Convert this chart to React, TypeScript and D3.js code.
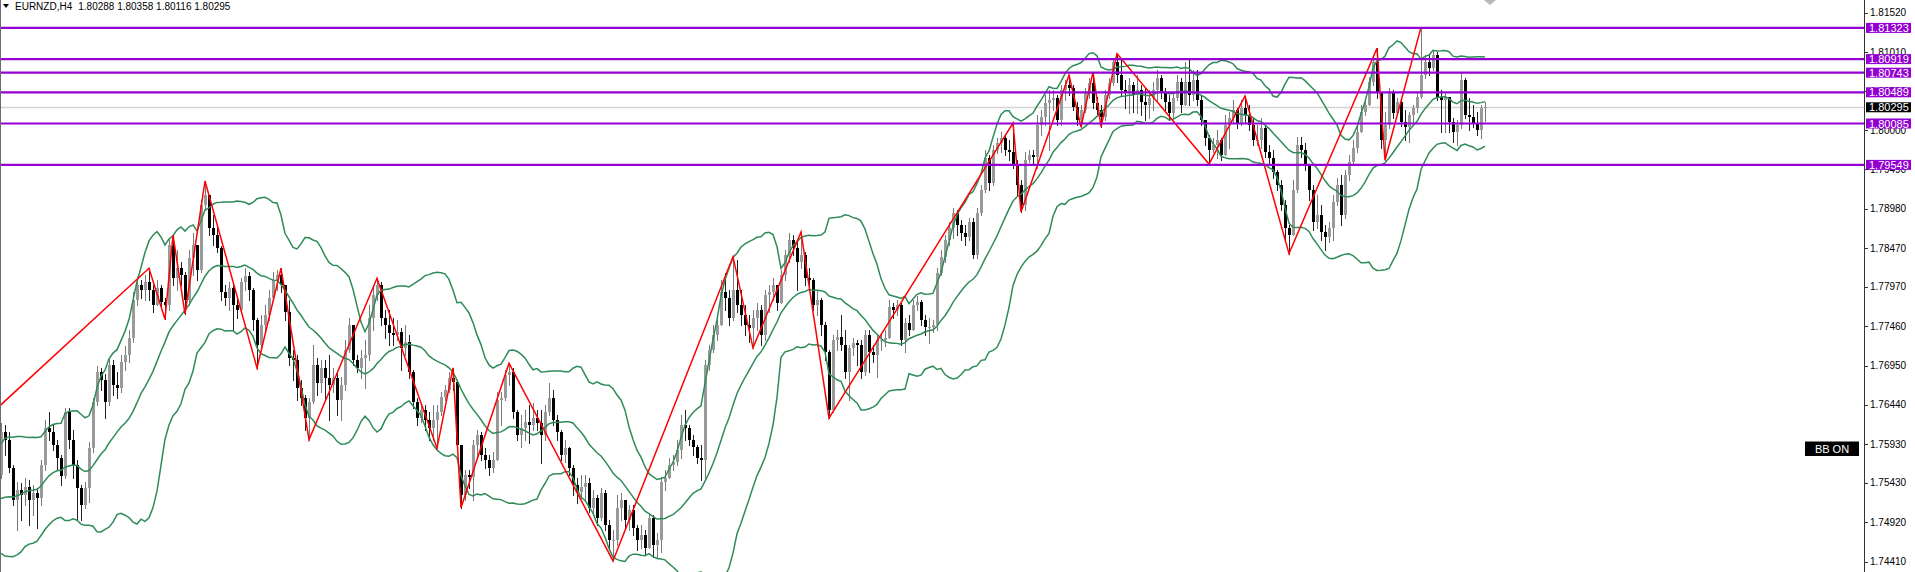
import React from "react";
import * as d3 from "d3";

// ---------- DATA (EURNZD, H4) ----------
const symbolLabel = "EURNZD,H4";

// closes of the 19 bars left of the visible window (needed for the 20-period bands)
const hiddenCloses = [
  1.7566, 1.7547, 1.7528, 1.7502, 1.7489, 1.7476, 1.7495, 1.7515, 1.7502, 1.7482,
  1.7469, 1.7489, 1.7508, 1.7528, 1.754, 1.7553, 1.7566, 1.754, 1.7553,
];

const firstOpen = 1.7553;

const closes = [
  1.7609, 1.7599, 1.7562, 1.7521, 1.7534, 1.7528, 1.7538, 1.7521, 1.753, 1.7524,
  1.7566, 1.7614, 1.7609, 1.7592, 1.7575, 1.7552, 1.7635, 1.7599, 1.7566, 1.7537,
  1.7515, 1.7537, 1.7588, 1.7648, 1.7687, 1.7676, 1.7648, 1.7696, 1.767, 1.7666,
  1.77, 1.7709, 1.7731, 1.778, 1.7799, 1.7793, 1.7803, 1.7793, 1.7774, 1.7796,
  1.7777, 1.7774, 1.7851, 1.7808, 1.7821, 1.7812, 1.778, 1.7834, 1.7851, 1.7819,
  1.7903, 1.7916, 1.7873, 1.7864, 1.7847, 1.779, 1.7783, 1.7796, 1.7774, 1.7767,
  1.7803, 1.7811, 1.7793, 1.7754, 1.7722, 1.7748, 1.7761, 1.7783, 1.7806, 1.7812,
  1.7799, 1.7765, 1.7705, 1.7702, 1.7666, 1.7653, 1.7627, 1.7648, 1.7696, 1.7673,
  1.7692, 1.7679, 1.767, 1.7679, 1.7651, 1.767, 1.7715, 1.7748, 1.7702, 1.7692,
  1.7705, 1.7709, 1.7757, 1.7787, 1.7799, 1.7757, 1.7748, 1.7737, 1.7735, 1.7739,
  1.7718, 1.7726, 1.7687, 1.7648, 1.7627, 1.7638, 1.7625, 1.7614, 1.7625, 1.7635,
  1.7654, 1.7664, 1.7679, 1.7674, 1.7592, 1.7528, 1.7553, 1.7551, 1.7592, 1.7605,
  1.7579, 1.7573, 1.7562, 1.7573, 1.7651, 1.7653, 1.7683, 1.7687, 1.7635, 1.7605,
  1.7614, 1.7622, 1.7618, 1.7627, 1.7621, 1.7605, 1.7635, 1.7653, 1.7625, 1.7609,
  1.7579, 1.7588, 1.7562, 1.754, 1.7531, 1.7538, 1.7543, 1.7511, 1.7524, 1.7498,
  1.753, 1.7489, 1.7469, 1.7469, 1.7511, 1.7521, 1.7495, 1.7508, 1.7485, 1.7469,
  1.7476, 1.7459, 1.7498, 1.7463, 1.7469, 1.7544, 1.755, 1.7566, 1.757, 1.7586,
  1.7618, 1.7614, 1.7599, 1.759, 1.7575, 1.7573, 1.7696, 1.7715, 1.7735, 1.7748,
  1.779, 1.7783, 1.7757, 1.7793, 1.7774, 1.7761, 1.7748, 1.7744, 1.7757, 1.7767,
  1.7735, 1.7787, 1.779, 1.7799, 1.7776, 1.7812, 1.7838, 1.7858, 1.7847, 1.7829,
  1.7838, 1.7808, 1.7806, 1.7774, 1.778, 1.7748, 1.7713, 1.7638, 1.7728, 1.7732,
  1.7722, 1.7687, 1.7718, 1.7724, 1.7722, 1.7687, 1.7735, 1.7713, 1.7709, 1.7728,
  1.7728, 1.7731, 1.7771, 1.7767, 1.7774, 1.7728, 1.775, 1.7741, 1.7774, 1.7777,
  1.7754, 1.7745, 1.7745, 1.7748, 1.7815, 1.7836, 1.7858, 1.7873, 1.7893, 1.7877,
  1.7867, 1.7862, 1.7881, 1.7838, 1.7893, 1.7923, 1.7964, 1.7932, 1.7974, 1.7983,
  1.799, 1.7974, 1.7972, 1.7955, 1.7929, 1.7903, 1.7961, 1.7968, 1.7965, 1.8007,
  1.8017, 1.8035, 1.8039, 1.8042, 1.8013, 1.8052, 1.8058, 1.8055, 1.803, 1.8013,
  1.8026, 1.8049, 1.8061, 1.8035, 1.8026, 1.8017, 1.8046, 1.8061, 1.8088, 1.8071,
  1.8052, 1.8049, 1.8058, 1.8046, 1.8052, 1.8036, 1.8033, 1.8042, 1.8052, 1.8068,
  1.8049, 1.8036, 1.8022, 1.8042, 1.8062, 1.8033, 1.8062, 1.8046, 1.8065, 1.8039,
  1.8013, 1.799, 1.7974, 1.7981, 1.7987, 1.7968, 1.8007, 1.8016, 1.8026, 1.8009,
  1.8029, 1.802, 1.8007, 1.7987, 1.7987, 1.8003, 1.7972, 1.7964, 1.7946, 1.7929,
  1.7903, 1.7873, 1.7864, 1.7923, 1.7981, 1.7974, 1.7955, 1.7923, 1.7881, 1.789,
  1.7868, 1.7862, 1.7873, 1.7907, 1.7929, 1.789, 1.7942, 1.7958, 1.7977, 1.7998,
  1.8023, 1.8033, 1.8062, 1.8088, 1.8049, 1.7987, 1.8007, 1.8049, 1.8022, 1.8036,
  1.801, 1.8004, 1.802, 1.8029, 1.8043, 1.8071, 1.8088, 1.808, 1.8097, 1.8043,
  1.8039, 1.8043, 1.801, 1.7997, 1.8007, 1.8065, 1.802, 1.8017, 1.8009, 1.8,
  1.80288, 1.80295,
];

const highs = [
  1.7621, 1.7618, 1.7609, 1.7566, 1.7544, 1.7543, 1.755, 1.7547, 1.754, 1.7537,
  1.7573, 1.7625, 1.7635, 1.7618, 1.7599, 1.7579, 1.764, 1.764, 1.7612, 1.7573,
  1.754, 1.7544, 1.7596, 1.7653, 1.7695, 1.7692, 1.7684, 1.7705, 1.7702, 1.7687,
  1.7709, 1.772, 1.7741, 1.779, 1.781, 1.7806, 1.7812, 1.7821, 1.7799, 1.7806,
  1.7799, 1.7783, 1.786, 1.7864, 1.7845, 1.7829, 1.7816, 1.7845, 1.7867, 1.7851,
  1.7909, 1.7934, 1.7916, 1.789, 1.7877, 1.785, 1.7799, 1.7803, 1.78, 1.7783,
  1.7808, 1.7821, 1.7816, 1.7796, 1.7757, 1.7761, 1.7774, 1.7793, 1.7816, 1.7819,
  1.7821, 1.7799, 1.778, 1.7715, 1.7709, 1.7676, 1.7657, 1.7653, 1.7722, 1.7705,
  1.7702, 1.7702, 1.7709, 1.7692, 1.7687, 1.768, 1.7728, 1.7757, 1.7748, 1.7709,
  1.7715, 1.7728, 1.7774, 1.7799, 1.7808, 1.7803, 1.7767, 1.7767, 1.7757, 1.7754,
  1.7744, 1.7748, 1.7735, 1.7689, 1.7653, 1.7644, 1.7644, 1.7635, 1.7644, 1.7644,
  1.7661, 1.767, 1.7687, 1.7692, 1.7676, 1.7592, 1.756, 1.756, 1.7599, 1.7612,
  1.7609, 1.7588, 1.7579, 1.7583, 1.7661, 1.7661, 1.7689, 1.7698, 1.7692, 1.7638,
  1.7631, 1.7638, 1.7644, 1.7647, 1.7638, 1.7638, 1.7644, 1.7673, 1.7664, 1.7631,
  1.7612, 1.7599, 1.759, 1.7566, 1.755, 1.7553, 1.7553, 1.755, 1.7534, 1.7528,
  1.7537, 1.7534, 1.7495, 1.7482, 1.7528, 1.753, 1.7521, 1.7515, 1.7515, 1.7489,
  1.7489, 1.7482, 1.7504, 1.7502, 1.7478, 1.7551, 1.756, 1.7575, 1.7579, 1.7599,
  1.7631, 1.7638, 1.7618, 1.7605, 1.7592, 1.7592, 1.7702, 1.7722, 1.7748, 1.7761,
  1.7806, 1.7815, 1.7793, 1.7836, 1.7832, 1.7793, 1.7774, 1.7761, 1.7767, 1.7776,
  1.7774, 1.7793, 1.7799, 1.7808, 1.7799, 1.7819, 1.7845, 1.7867, 1.7864, 1.7858,
  1.7868, 1.7842, 1.7821, 1.7808, 1.7793, 1.7783, 1.7752, 1.7715, 1.7735, 1.7741,
  1.7761, 1.7741, 1.7722, 1.7731, 1.7728, 1.7728, 1.7741, 1.7741, 1.7722, 1.7735,
  1.7735, 1.7741, 1.778, 1.7776, 1.778, 1.7776, 1.7757, 1.7761, 1.778, 1.7785,
  1.778, 1.7761, 1.7757, 1.7754, 1.7821, 1.7845, 1.7864, 1.7881, 1.7899, 1.7897,
  1.7884, 1.7877, 1.7886, 1.7886, 1.7899, 1.7929, 1.7974, 1.7968, 1.7981, 1.799,
  1.7997, 1.7994, 1.7987, 1.8009, 1.7961, 1.7935, 1.7972, 1.7974, 1.7974, 1.802,
  1.8026, 1.8046, 1.8052, 1.8052, 1.8046, 1.8058, 1.8065, 1.8071, 1.8058, 1.8036,
  1.8033, 1.8055, 1.8068, 1.8075, 1.8043, 1.8033, 1.8052, 1.8068, 1.8093, 1.8099,
  1.8091, 1.8065, 1.8068, 1.8062, 1.8071, 1.8058, 1.8055, 1.8052, 1.8062, 1.8078,
  1.8071, 1.8055, 1.8046, 1.8049, 1.8071, 1.8068, 1.8088, 1.8091, 1.8078, 1.8078,
  1.8046, 1.8013, 1.7994, 1.799, 1.8, 1.799, 1.802, 1.8023, 1.8039, 1.8029,
  1.8039, 1.8044, 1.8033, 1.8016, 1.8007, 1.8016, 1.8007, 1.7981, 1.7974, 1.7948,
  1.7935, 1.791, 1.7877, 1.7935, 1.7991, 1.7991, 1.7983, 1.7955, 1.7929, 1.7916,
  1.7903, 1.7877, 1.7881, 1.7916, 1.7938, 1.7942, 1.7948, 1.7968, 1.7987, 1.8007,
  1.8033, 1.8042, 1.8069, 1.8097, 1.8106, 1.8049, 1.8023, 1.8055, 1.8052, 1.8042,
  1.8039, 1.8026, 1.8023, 1.8033, 1.8049, 1.8133, 1.8097, 1.8097, 1.8104, 1.8101,
  1.8052, 1.8048, 1.8043, 1.8016, 1.8013, 1.8075, 1.8068, 1.8042, 1.8033, 1.8023,
  1.8032, 1.80358,
];

const lows = [
  1.755, 1.7579, 1.7557, 1.7515, 1.7482, 1.7495, 1.7515, 1.7489, 1.7502, 1.7485,
  1.7515, 1.756, 1.7599, 1.7586, 1.756, 1.754, 1.755, 1.7588, 1.755, 1.7495,
  1.7495, 1.7511, 1.7518, 1.7583, 1.7644, 1.7664, 1.7627, 1.7644, 1.7657, 1.7653,
  1.7661, 1.7689, 1.77, 1.7726, 1.7774, 1.7783, 1.778, 1.778, 1.7765, 1.7774,
  1.777, 1.7755, 1.7767, 1.7799, 1.7793, 1.7799, 1.7762, 1.7774, 1.7812, 1.7806,
  1.7816, 1.7897, 1.7864, 1.7851, 1.7842, 1.778, 1.7774, 1.7767, 1.7741, 1.7757,
  1.7765, 1.7793, 1.778, 1.7741, 1.7692, 1.7715, 1.7741, 1.7754, 1.778, 1.7793,
  1.779, 1.7754, 1.7696, 1.7676, 1.7651, 1.7644, 1.7612, 1.7599, 1.7647, 1.7657,
  1.7661, 1.7651, 1.7625, 1.7661, 1.7631, 1.7625, 1.7664, 1.7713, 1.7696, 1.7687,
  1.7679, 1.7666, 1.7702, 1.7741, 1.778, 1.7748, 1.7731, 1.7722, 1.7722, 1.7728,
  1.7689, 1.7709, 1.7679, 1.764, 1.7618, 1.7622, 1.7612, 1.7599, 1.7599, 1.7588,
  1.7631, 1.7651, 1.7661, 1.7664, 1.7586, 1.7511, 1.7521, 1.7537, 1.7521, 1.7575,
  1.7573, 1.7562, 1.7553, 1.7557, 1.7575, 1.7618, 1.7651, 1.767, 1.7627, 1.7599,
  1.759, 1.7599, 1.7595, 1.7612, 1.7612, 1.7569, 1.7599, 1.7631, 1.7618, 1.7599,
  1.7573, 1.757, 1.7553, 1.7528, 1.7517, 1.7524, 1.7521, 1.7506, 1.7502, 1.7489,
  1.7495, 1.7482, 1.7459, 1.7442, 1.7463, 1.7495, 1.7485, 1.7482, 1.7476, 1.7456,
  1.7459, 1.745, 1.7459, 1.7447, 1.7446, 1.7454, 1.7534, 1.755, 1.756, 1.7566,
  1.7575, 1.7599, 1.7592, 1.7579, 1.7569, 1.7547, 1.7547, 1.7689, 1.7713, 1.7728,
  1.7754, 1.7767, 1.7748, 1.7754, 1.7765, 1.7748, 1.7735, 1.7726, 1.7718, 1.7741,
  1.7722, 1.7728, 1.7765, 1.778, 1.7767, 1.778, 1.7806, 1.7829, 1.7838, 1.7793,
  1.7821, 1.7799, 1.7793, 1.7767, 1.7761, 1.7735, 1.7702, 1.7627, 1.7635, 1.7715,
  1.7715, 1.7679, 1.7651, 1.7709, 1.7696, 1.7679, 1.7683, 1.7687, 1.77, 1.768,
  1.7715, 1.772, 1.7737, 1.7757, 1.7761, 1.7722, 1.7713, 1.7735, 1.7741, 1.7767,
  1.7748, 1.7735, 1.7724, 1.7739, 1.7741, 1.7812, 1.7829, 1.7851, 1.786, 1.7864,
  1.7858, 1.7851, 1.7858, 1.7834, 1.7834, 1.789, 1.792, 1.7923, 1.7929, 1.797,
  1.7971, 1.7968, 1.7961, 1.7951, 1.7916, 1.7894, 1.7897, 1.7959, 1.7955, 1.7951,
  1.7994, 1.8007, 1.7974, 1.8026, 1.8007, 1.8007, 1.8039, 1.8046, 1.8026, 1.8007,
  1.8004, 1.8023, 1.8042, 1.8029, 1.802, 1.8004, 1.8013, 1.8042, 1.8058, 1.8062,
  1.8046, 1.8029, 1.8022, 1.8023, 1.8022, 1.802, 1.8013, 1.8016, 1.8026, 1.8039,
  1.8042, 1.8026, 1.8013, 1.8016, 1.8039, 1.8023, 1.8039, 1.8033, 1.8039, 1.8033,
  1.8007, 1.7981, 1.7956, 1.7972, 1.7964, 1.7961, 1.7974, 1.7977, 1.801, 1.8003,
  1.8007, 1.801, 1.8, 1.7981, 1.7981, 1.7977, 1.7965, 1.7955, 1.7938, 1.7923,
  1.7897, 1.7858, 1.784, 1.7864, 1.792, 1.7965, 1.7948, 1.791, 1.7871, 1.7873,
  1.7858, 1.7845, 1.7855, 1.7858, 1.7903, 1.7877, 1.7886, 1.7935, 1.7955, 1.7972,
  1.7997, 1.802, 1.8033, 1.8058, 1.8042, 1.7977, 1.7961, 1.8003, 1.8016, 1.802,
  1.8005, 1.7987, 1.7984, 1.8007, 1.8023, 1.8042, 1.8068, 1.8071, 1.8078, 1.8039,
  1.7997, 1.7998, 1.7997, 1.7985, 1.7981, 1.8003, 1.8016, 1.8, 1.8004, 1.7994,
  1.799, 1.80116,
];

// ZigZag pivots: bar index and price (first one lies left of the window)
const zigzagBars = [
  -12, 37, 41, 43, 46, 51, 64, 70, 77, 94, 109, 113, 115, 127, 153, 183, 188, 200,
  207, 253, 255, 267, 270, 273, 275, 279, 302, 311, 322, 344, 346, 355,
];
const zigzagPrices = [
  1.7587, 1.7821, 1.7755, 1.7864, 1.7762, 1.7934, 1.7692, 1.7821, 1.7599, 1.7808,
  1.7588, 1.7692, 1.7511, 1.7698, 1.7442, 1.7836, 1.7718, 1.7868, 1.7627, 1.8009,
  1.7894, 1.8071, 1.8004, 1.8075, 1.8004, 1.8099, 1.7956, 1.8044, 1.784, 1.8106,
  1.7961, 1.8133,
];

// Horizontal levels drawn on the chart
const levelPrices = [1.81323, 1.80919, 1.80743, 1.80489, 1.80085, 1.79549];

// Price axis ticks
const tickPrices = [
  1.8152, 1.8101, 1.805, 1.8, 1.7949, 1.7898, 1.7847, 1.7797, 1.7746, 1.7695,
  1.7644, 1.7593, 1.7543, 1.7492, 1.7441,
];

const bbPeriod = 20;
const bbDeviation = 2;

// ---------- COMPONENT ----------
export default function App() {
  const W = 1915;
  const H = 572;
  const axisX = 1864;
  const n = closes.length;

  const x = d3.scaleLinear().domain([0, n - 1]).range([1, 1485]);
  const y = d3.scaleLinear().domain([1.7441, 1.8152]).range([561.7, 12.7]);

  const opens = closes.map((c, i) => (i === 0 ? firstOpen : closes[i - 1]));
  const lastOpen = 1.80288;
  opens[n - 1] = lastOpen;

  // Bollinger bands (20, 2) from closes
  const all = [...hiddenCloses, ...closes];
  const off = hiddenCloses.length;
  const bands = closes.map((_, i) => {
    const win = all.slice(i + off - bbPeriod + 1, i + off + 1);
    const m = d3.mean(win) as number;
    const sd = Math.sqrt(d3.mean(win.map((v) => (v - m) * (v - m))) as number);
    return { i, mid: m, up: m + bbDeviation * sd, lo: m - bbDeviation * sd };
  });
  const bandLine = (key: "mid" | "up" | "lo") =>
    d3
      .line<{ i: number; mid: number; up: number; lo: number }>()
      .x((d) => x(d.i))
      .y((d) => y(d[key]))(bands) as string;

  const zz = zigzagBars.map((b, k) => [x(b), y(zigzagPrices[k])] as [number, number]);
  const zzPath = d3.line()(zz) as string;

  const last = n - 1;
  const fmt = (v: number) => v.toFixed(5);
  const header = `${fmt(opens[last])} ${fmt(highs[last])} ${fmt(lows[last])} ${fmt(closes[last])}`;
  const purple = "#9400d3";
  const curY = y(closes[last]);

  return (
    <div>
      <style>{`html,body{margin:0;padding:0;background:#fff;}`}</style>
      <svg
        width={W}
        height={H}
        style={{ display: "block" }}
        fontFamily="'Liberation Sans', Arial, sans-serif"
      >
        <rect x={0} y={0} width={W} height={H} fill="#fff" />
        <defs>
          <clipPath id="plot">
            <rect x={0} y={0} width={axisX} height={H} />
          </clipPath>
        </defs>
        <g clipPath="url(#plot)">
          {/* current price line */}
          <line x1={0} x2={axisX} y1={Math.round(curY) + 0.5} y2={Math.round(curY) + 0.5} stroke="#d4d4d4" strokeWidth={1.5} />
          {/* candles */}
          {closes.map((c, i) => {
            const o = opens[i];
            const hi = Math.max(highs[i], o, c);
            const lo = Math.min(lows[i], o, c);
            const cx = Math.round(x(i));
            const bull = c >= o;
            const yTop = Math.round(y(Math.max(o, c)));
            const yBot = Math.round(y(Math.min(o, c)));
            return (
              <g key={i}>
                <line
                  x1={cx + 0.5}
                  x2={cx + 0.5}
                  y1={Math.round(y(hi))}
                  y2={Math.round(y(lo)) + 1}
                  stroke={bull ? "#7a7a7a" : "#222"}
                  strokeWidth={1}
                />
                <rect
                  x={cx - 1}
                  y={yTop}
                  width={3}
                  height={Math.max(1, yBot - yTop)}
                  fill={bull ? "#9a9a9a" : "#000"}
                />
              </g>
            );
          })}
          {/* Bollinger bands */}
          {(["up", "mid", "lo"] as const).map((k) => (
            <path key={k} d={bandLine(k)} fill="none" stroke="#2e8b57" strokeWidth={1.5} />
          ))}
          {/* zigzag */}
          <path d={zzPath} fill="none" stroke="#ff0000" strokeWidth={1.5} />
          {/* horizontal levels */}
          {levelPrices.map((p) => (
            <line key={p} x1={0} x2={axisX} y1={y(p)} y2={y(p)} stroke={purple} strokeWidth={2.2} />
          ))}
        </g>

        {/* left border */}
        <line x1={0.5} x2={0.5} y1={0} y2={H} stroke="#6b6b6b" strokeWidth={1} />

        {/* header */}
        <path d="M3,4 L9,4 L6,8 Z" fill="#000" />
        <text x={15} y={10} fontSize={10} fill="#000">
          {symbolLabel}
          <tspan dx={6}>{header}</tspan>
        </text>

        {/* top shift marker */}
        <path d="M1484,0 L1496,0 L1490,5 Z" fill="#b8b8b8" />

        {/* price axis */}
        <line x1={axisX + 0.5} x2={axisX + 0.5} y1={0} y2={H} stroke="#333" strokeWidth={1} />
        {tickPrices.map((p) => (
          <g key={p}>
            <line x1={axisX} x2={axisX + 4} y1={Math.round(y(p)) + 0.5} y2={Math.round(y(p)) + 0.5} stroke="#333" />
            <text x={axisX + 6} y={y(p) + 3.5} fontSize={10} fill="#000">
              {p.toFixed(5)}
            </text>
          </g>
        ))}

        {/* level labels */}
        {levelPrices.map((p) => (
          <g key={"l" + p}>
            <rect x={axisX + 2} y={y(p) - 5} width={45} height={10} fill={purple} />
            <text x={axisX + 5} y={y(p) + 4} fontSize={11} fill="#fff">
              {p.toFixed(5)}
            </text>
          </g>
        ))}
        {/* current price label */}
        <rect x={axisX + 2} y={curY - 5} width={45} height={10} fill="#000" />
        <text x={axisX + 5} y={curY + 4} fontSize={11} fill="#fff">
          {closes[last].toFixed(5)}
        </text>

        {/* BB ON button */}
        <rect x={1805} y={441.5} width={54} height={14.5} fill="#000" />
        <text x={1832} y={452.5} fontSize={11} fill="#fff" textAnchor="middle">
          BB ON
        </text>
      </svg>
    </div>
  );
}
